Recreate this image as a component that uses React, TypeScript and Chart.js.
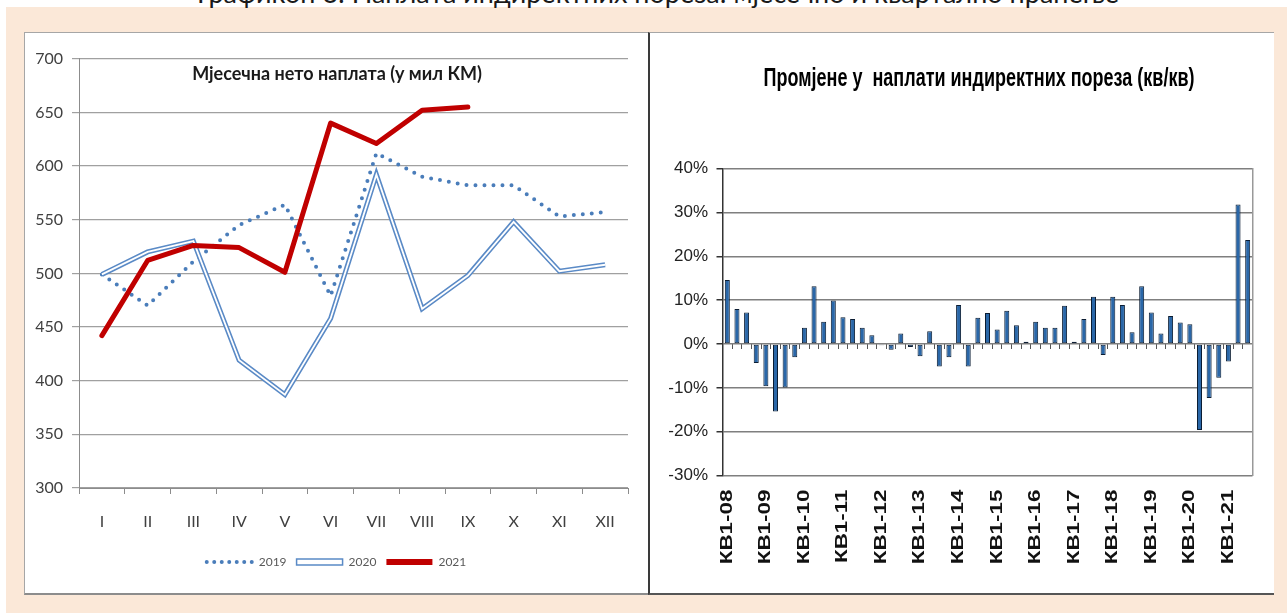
import React, { useEffect, useRef } from 'react';
import { Chart, registerables } from 'chart.js';

Chart.register(...registerables);

// ---------- Data: left chart (monthly net collection, mil KM) ----------
const MONTHS = ['I', 'II', 'III', 'IV', 'V', 'VI', 'VII', 'VIII', 'IX', 'X', 'XI', 'XII'];
const NET_2019 = [499, 470, 511, 545, 564, 479, 612, 590, 582, 582, 553, 557];
const NET_2020 = [499, 520, 530, 419, 387, 458, 592, 467, 498, 548, 502, 508];
const NET_2021 = [442, 512, 526, 524, 501, 640, 621, 652, 655];
const SERIES_NAMES = ['2019', '2020', '2021'];
const LEFT_Y_MIN = 300;
const LEFT_Y_MAX = 700;
const LEFT_Y_STEP = 50;

// ---------- Data: right chart (q/q change, %) ----------
const QUARTER_YEARS = ['08', '09', '10', '11', '12', '13', '14', '15', '16', '17', '18', '19', '20', '21'];
const QUARTER_NAMES = ['КВ1', 'КВ2', 'КВ3', 'КВ4'];
const QOQ_CHANGE = [
  14.6, 8.0, 7.2, -4.3, -9.6, -15.4, -9.9, -3.0, 3.7, 13.2, 5.1, 9.9, 6.1, 5.7, 3.7, 2.0,
  -0.3, -1.3, 2.4, -0.7, -2.8, 2.9, -5.1, -3.0, 8.9, -5.1, 6.0, 7.1, 3.3, 7.6, 4.3, 0.5,
  5.1, 3.7, 3.7, 8.7, 0.5, 5.7, 10.8, -2.5, 10.8, 8.9, 2.7, 13.2, 7.2, 2.4, 6.4, 4.9,
  4.5, -19.6, -12.3, -7.7, -4.0, 31.8, 23.7,
];
const QUARTER_LABELS = QUARTER_YEARS.flatMap((y) => QUARTER_NAMES.map((q) => `${q}-${y}`)).slice(0, QOQ_CHANGE.length);
const RIGHT_Y_MIN = -30;
const RIGHT_Y_MAX = 40;
const RIGHT_Y_STEP = 10;

const PAGE_TITLE = 'Графикон 3: Наплата индиректних пореза: мјесечно и квартално праћење';
const LEFT_TITLE = 'Мјесечна нето наплата (у мил КМ)';
const RIGHT_TITLE = 'Промјене у  наплати индиректних пореза (кв/кв)';

// ---------- Styles ----------
const LEFT_FONT = "Lato, 'Noto Sans', sans-serif";
const RIGHT_FONT = "'Liberation Sans', Arial, sans-serif";
const PEACH = '#FBE8D8';
const C19 = '#4A7DBA';
const C20 = '#5A8AC6';
const C21 = '#C00000';
const BAR_FILL = '#2A67A8';
const BAR_EDGE = '#0B1D33';

const quarterLabelPlugin = {
  id: 'quarterLabels',
  afterDraw(chart: any) {
    const { ctx, chartArea } = chart;
    const xs = chart.scales.x;
    ctx.save();
    ctx.font = `bold 16px ${RIGHT_FONT}`;
    ctx.fillStyle = '#111';
    ctx.textAlign = 'right';
    ctx.textBaseline = 'middle';
    QUARTER_LABELS.forEach((lab, i) => {
      if (i % 4 !== 0) return;
      const x = xs.getPixelForValue(i);
      ctx.save();
      ctx.translate(x, chartArea.bottom + 14);
      ctx.rotate(-Math.PI / 2);
      ctx.scale(1.4, 1);
      ctx.fillText(lab, 0, 0);
      ctx.restore();
    });
    ctx.restore();
  },
};

export default function App() {
  const leftRef = useRef<HTMLCanvasElement>(null);
  const rightRef = useRef<HTMLCanvasElement>(null);

  useEffect(() => {
    const left = new Chart(leftRef.current as HTMLCanvasElement, {
      type: 'line',
      data: {
        labels: MONTHS,
        datasets: [
          {
            label: SERIES_NAMES[2], data: NET_2021, borderColor: C21, borderWidth: 5,
            pointRadius: 0, borderCapStyle: 'round', borderJoinStyle: 'round', order: 0, tension: 0,
          },
          {
            label: SERIES_NAMES[1] + '-inner', data: NET_2020, borderColor: '#ffffff', borderWidth: 1.8,
            pointRadius: 0, order: 1, tension: 0,
          },
          {
            label: SERIES_NAMES[1], data: NET_2020, borderColor: C20, borderWidth: 5,
            pointRadius: 0, order: 2, tension: 0,
          },
          {
            label: SERIES_NAMES[0], data: NET_2019, borderColor: C19, borderWidth: 4,
            borderDash: [0, 9], borderCapStyle: 'round', pointRadius: 0, order: 3, tension: 0,
          },
        ],
      } as any,
      options: {
        responsive: false,
        animation: false,
        events: [],
        layout: { padding: { left: 0, right: 0, top: 25.7, bottom: 15 } },
        plugins: {
          tooltip: { enabled: false },
          title: { display: false },
          legend: {
            position: 'bottom',
            labels: {
              usePointStyle: true,
              pointStyleWidth: 46,
              boxHeight: 6,
              padding: 10,
              font: { family: LEFT_FONT, size: 12 },
              color: '#595959',
              generateLabels: () => [
                {
                  text: SERIES_NAMES[0], pointStyle: 'line', strokeStyle: C19, fillStyle: C19,
                  lineWidth: 4, lineDash: [0, 7.5], lineCap: 'round', fontColor: '#595959',
                  hidden: false, datasetIndex: 3,
                },
                {
                  text: SERIES_NAMES[1], pointStyle: 'rect', strokeStyle: C20, fillStyle: '#ffffff',
                  lineWidth: 1.5, lineDash: [], fontColor: '#595959', hidden: false, datasetIndex: 2,
                },
                {
                  text: SERIES_NAMES[2], pointStyle: 'line', strokeStyle: C21, fillStyle: C21,
                  lineWidth: 6, lineDash: [], lineCap: 'butt', fontColor: '#595959',
                  hidden: false, datasetIndex: 0,
                },
              ],
            },
          },
        },
        scales: {
          x: {
            offset: true,
            grid: { offset: true, drawOnChartArea: false, drawTicks: true, tickLength: 6, color: '#8c8c8c' },
            border: { color: '#8c8c8c' },
            ticks: { padding: 18, font: { family: LEFT_FONT, size: 16 }, color: '#404040', maxRotation: 0, autoSkip: false },
            afterFit: (s: any) => { s.height = 58; },
          },
          y: {
            min: LEFT_Y_MIN,
            max: LEFT_Y_MAX,
            ticks: { stepSize: LEFT_Y_STEP, padding: 9, font: { family: LEFT_FONT, size: 16 }, color: '#404040' },
            grid: { color: '#a0a0a0', lineWidth: 1.2, tickLength: 7 },
            border: { color: '#8c8c8c' },
            afterFit: (s: any) => { s.width = 54; },
          },
          yRight: {
            position: 'right',
            min: LEFT_Y_MIN,
            max: LEFT_Y_MAX,
            ticks: { display: false },
            grid: { display: false, drawOnChartArea: false, drawTicks: false },
            border: { display: false },
            afterFit: (s: any) => { s.width = 20; },
          },
        },
      } as any,
    });

    const right = new Chart(rightRef.current as HTMLCanvasElement, {
      type: 'bar',
      data: {
        labels: QUARTER_LABELS,
        datasets: [
          {
            data: QOQ_CHANGE,
            backgroundColor: BAR_FILL,
            borderColor: BAR_EDGE,
            borderWidth: 1,
            borderSkipped: false,
            barPercentage: 0.52,
            categoryPercentage: 1,
          },
        ],
      } as any,
      options: {
        responsive: false,
        animation: false,
        events: [],
        layout: { padding: { left: 0, right: 20.5, top: 135.6, bottom: 117.4 } },
        plugins: { legend: { display: false }, tooltip: { enabled: false }, title: { display: false } },
        scales: {
          x: {
            position: { y: 0 },
            offset: true,
            grid: { offset: true, drawOnChartArea: false, drawTicks: true, tickLength: 5, color: '#555' },
            border: { display: false },
            ticks: { display: false, autoSkip: false },
            afterFit: (s: any) => { s.height = 0; },
          },
          y: {
            min: RIGHT_Y_MIN,
            max: RIGHT_Y_MAX,
            ticks: {
              stepSize: RIGHT_Y_STEP,
              callback: (v: any) => `${v}%`,
              padding: 8.5,
              font: { family: RIGHT_FONT, size: 17 },
              color: '#222',
            },
            grid: { color: '#7f7f7f', lineWidth: 1.5, tickLength: 6, tickColor: '#333' },
            border: { color: '#333', width: 1.5 },
            afterFit: (s: any) => { s.width = 71.5; },
          },
          y2: {
            position: 'right',
            min: RIGHT_Y_MIN,
            max: RIGHT_Y_MAX,
            ticks: { display: false },
            grid: { drawOnChartArea: false, drawTicks: false },
            border: { color: '#999', width: 1.5 },
            afterFit: (s: any) => { s.width = 0; },
          },
        },
      } as any,
      plugins: [quarterLabelPlugin],
    });

    return () => {
      left.destroy();
      right.destroy();
    };
  }, []);

  return (
    <div style={{ position: 'fixed', left: 0, top: 0, width: 1287, height: 613, background: '#fff', overflow: 'hidden' }}>
      <div style={{ position: 'absolute', left: 6, top: 7, right: 0, bottom: 0, background: PEACH }} />
      <div
        style={{
          position: 'absolute', left: 658, top: -22, transform: 'translateX(-50%)', whiteSpace: 'nowrap',
          fontFamily: LEFT_FONT, fontSize: 27, lineHeight: '30px', color: '#1a1a1a',
        }}
      >
        {PAGE_TITLE}
      </div>
      <div
        style={{
          position: 'absolute', left: 24, top: 32, width: 625, height: 563, boxSizing: 'border-box', background: '#fff',
          borderTop: '1px solid #a6a6a6', borderLeft: '1px solid #a6a6a6', borderBottom: '2px solid #8c8c8c',
        }}
      />
      <div
        style={{
          position: 'absolute', left: 648, top: 32, width: 626, height: 563, boxSizing: 'border-box', background: '#fff',
          borderTop: '1px solid #a6a6a6', borderLeft: '2px solid #3a3a3a', borderBottom: '2px solid #555',
        }}
      />
      <canvas ref={leftRef} width={623} height={560} style={{ position: 'absolute', left: 25, top: 33, width: 623, height: 560 }} />
      <canvas ref={rightRef} width={622} height={560} style={{ position: 'absolute', left: 651, top: 33, width: 622, height: 560 }} />
      <div
        style={{
          position: 'absolute', left: 337, top: 72.5, transform: 'translate(-50%, -50%)', whiteSpace: 'nowrap',
          fontFamily: LEFT_FONT, fontWeight: 700, fontSize: 18, lineHeight: 1, color: '#1a1a1a',
        }}
      >
        {LEFT_TITLE}
      </div>
      <div
        style={{
          position: 'absolute', left: 979, top: 77.5, transform: 'translate(-50%, -50%) scaleY(1.4)', whiteSpace: 'pre',
          fontFamily: RIGHT_FONT, fontWeight: 700, fontSize: 18, lineHeight: 1, color: '#000',
        }}
      >
        {RIGHT_TITLE}
      </div>
    </div>
  );
}
